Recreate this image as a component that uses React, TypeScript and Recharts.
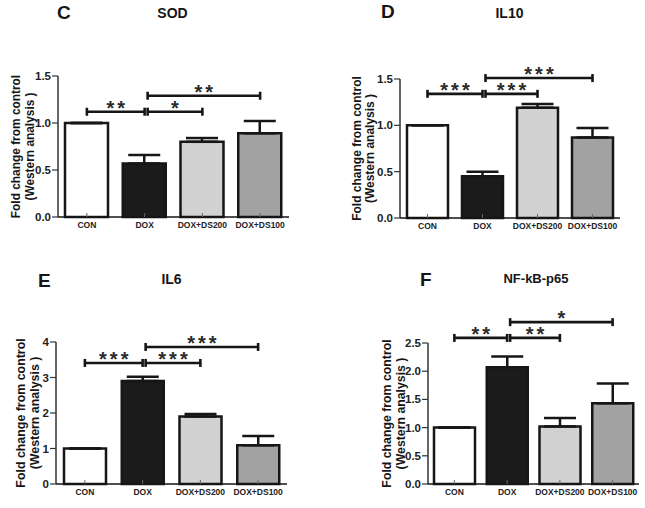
import React from 'react'
import { BarChart, Bar, XAxis, YAxis, Cell, ErrorBar, ReferenceLine } from 'recharts'

const groups = ['CON', 'DOX', 'DOX+DS200', 'DOX+DS100']
const fills = ['#ffffff', '#1b1b1b', '#d2d2d2', '#a2a2a2']

const sodMean = [1.0, 0.57, 0.8, 0.89]
const sodErr = [0, 0.09, 0.04, 0.13]
const il10Mean = [1.0, 0.45, 1.19, 0.87]
const il10Err = [0, 0.05, 0.04, 0.1]
const il6Mean = [1.0, 2.9, 1.9, 1.09]
const il6Err = [0, 0.12, 0.07, 0.26]
const nfkbMean = [1.0, 2.07, 1.02, 1.43]
const nfkbErr = [0, 0.19, 0.15, 0.35]

const sodTicks = [0, 0.5, 1, 1.5]
const il10Ticks = [0, 0.5, 1, 1.5]
const il6Ticks = [0, 1, 2, 3, 4]
const nfkbTicks = [0, 0.5, 1, 1.5, 2, 2.5]

type Sig = { from: string; to: string; y: number; stars: string }

const sodSig: Sig[] = [
  { from: 'CON', to: 'DOX', y: 1.12, stars: '**' },
  { from: 'DOX', to: 'DOX+DS200', y: 1.12, stars: '*' },
  { from: 'DOX', to: 'DOX+DS100', y: 1.29, stars: '**' },
]
const il10Sig: Sig[] = [
  { from: 'CON', to: 'DOX', y: 1.34, stars: '***' },
  { from: 'DOX', to: 'DOX+DS200', y: 1.34, stars: '***' },
  { from: 'DOX', to: 'DOX+DS100', y: 1.51, stars: '***' },
]
const il6Sig: Sig[] = [
  { from: 'CON', to: 'DOX', y: 3.41, stars: '***' },
  { from: 'DOX', to: 'DOX+DS200', y: 3.41, stars: '***' },
  { from: 'DOX', to: 'DOX+DS100', y: 3.86, stars: '***' },
]
const nfkbSig: Sig[] = [
  { from: 'CON', to: 'DOX', y: 2.59, stars: '**' },
  { from: 'DOX', to: 'DOX+DS200', y: 2.59, stars: '**' },
  { from: 'DOX', to: 'DOX+DS100', y: 2.87, stars: '*' },
]

const FONT = '"Liberation Sans", Arial, sans-serif'
const INK = '#161616'

const toRows = (mean: number[], err: number[]) =>
  groups.map((g, i) => ({ name: g, value: mean[i], err: [0, err[i]] }))

const bracketShape = (stars: string, shift: boolean) => (p: any) => {
  const x1 = p.x1 + (shift ? 3 : 0)
  const x2 = p.x2
  const y = p.y1
  return (
    <g>
      <line x1={x1} y1={y} x2={x2} y2={y} stroke={INK} strokeWidth={2.6} />
      <line x1={x1} y1={y - 4} x2={x1} y2={y + 4} stroke={INK} strokeWidth={2.6} />
      <line x1={x2} y1={y - 4} x2={x2} y2={y + 4} stroke={INK} strokeWidth={2.6} />
      <text
        x={(x1 + x2) / 2 + 1.5}
        y={y + 3}
        textAnchor="middle"
        fontFamily={FONT}
        fontWeight={700}
        fontSize={20}
        letterSpacing={3}
        fill="#2a2a2a"
      >
        {stars}
      </text>
    </g>
  )
}

const yLabel = (off1: number, off2: number, fs: number) => (p: any) => {
  const vb = p.viewBox || {}
  const ax = vb.x + vb.width
  const cy = vb.y + vb.height / 2
  const common = { textAnchor: 'middle' as const, fontFamily: FONT, fontWeight: 700, fontSize: fs, fill: INK }
  return (
    <g>
      <text transform={`translate(${ax - off1},${cy}) rotate(-90)`} {...common}>
        Fold change from control
      </text>
      <text transform={`translate(${ax - off2},${cy}) rotate(-90)`} {...common}>
        (Western analysis )
      </text>
    </g>
  )
}

type PanelProps = {
  left: number
  top: number
  width: number
  margin: { top: number; right: number; bottom: number; left: number }
  yWidth: number
  barSize: number
  mean: number[]
  err: number[]
  ticks: number[]
  sig: Sig[]
  decimals: number
  labelOff: [number, number]
  labelSize: number
}

function Panel(props: PanelProps) {
  const { left, top, width, margin, yWidth, barSize, mean, err, ticks, sig, decimals, labelOff, labelSize } = props
  const data = toRows(mean, err)
  return (
    <div style={{ position: 'absolute', left, top }}>
      <BarChart width={width} height={254} data={data} margin={margin} barSize={barSize}>
        <YAxis
          type="number"
          domain={[0, ticks[ticks.length - 1]]}
          ticks={ticks}
          width={yWidth}
          tickFormatter={(v: number) => v.toFixed(decimals)}
          tick={{ fontFamily: FONT, fontWeight: 700, fontSize: 11.5, fill: '#222' }}
          tickSize={6}
          tickMargin={1}
          tickLine={{ stroke: '#333', strokeWidth: 1.2 }}
          axisLine={{ stroke: '#333', strokeWidth: 1.5 }}
          label={yLabel(labelOff[0], labelOff[1], labelSize)}
        />
        <Bar dataKey="value" stroke={INK} strokeWidth={2.5} isAnimationActive={false}>
          {data.map((d, i) => (
            <Cell key={d.name} fill={fills[i]} />
          ))}
          <ErrorBar dataKey="err" direction="y" width={16} stroke={INK} strokeWidth={2.5} isAnimationActive={false} />
        </Bar>
        <XAxis
          dataKey="name"
          type="category"
          height={20}
          interval={0}
          tick={{ fontFamily: FONT, fontWeight: 700, fontSize: 8.5, fill: '#222' }}
          tickSize={-4}
          tickMargin={9}
          tickLine={{ stroke: '#666', strokeWidth: 1 }}
          axisLine={{ stroke: INK, strokeWidth: 1.5 }}
        />
        {sig.map((s, i) => (
          <ReferenceLine
            key={i}
            segment={[
              { x: s.from, y: s.y },
              { x: s.to, y: s.y },
            ]}
            ifOverflow="visible"
            shape={bracketShape(s.stars, s.from === 'DOX')}
          />
        ))}
      </BarChart>
    </div>
  )
}

const titles = [
  { letter: 'C', lx: 57, ly: 19, name: 'SOD', nx: 172.5, ny: 18, size: 14 },
  { letter: 'D', lx: 381, ly: 18, name: 'IL10', nx: 509.5, ny: 18, size: 14 },
  { letter: 'E', lx: 38, ly: 287, name: 'IL6', nx: 171.5, ny: 284, size: 14 },
  { letter: 'F', lx: 420, ly: 286, name: 'NF-kB-p65', nx: 536, ny: 283, size: 13 },
]

export default function App() {
  return (
    <div style={{ position: 'absolute', left: 0, top: 0, width: 645, height: 508, background: '#fff', overflow: 'hidden' }}>
      <Panel
        left={0}
        top={0}
        width={320}
        margin={{ top: 76, right: 31, bottom: 17, left: 0 }}
        yWidth={58}
        barSize={43}
        mean={sodMean}
        err={sodErr}
        ticks={sodTicks}
        sig={sodSig}
        decimals={1}
        labelOff={[38, 24]}
        labelSize={11.9}
      />
      <Panel
        left={320}
        top={0}
        width={325}
        margin={{ top: 79, right: 25, bottom: 16, left: 0 }}
        yWidth={80}
        barSize={41}
        mean={il10Mean}
        err={il10Err}
        ticks={il10Ticks}
        sig={il10Sig}
        decimals={1}
        labelOff={[39, 26]}
        labelSize={12}
      />
      <Panel
        left={0}
        top={254}
        width={320}
        margin={{ top: 88, right: 33, bottom: 4, left: 0 }}
        yWidth={56}
        barSize={42}
        mean={il6Mean}
        err={il6Err}
        ticks={il6Ticks}
        sig={il6Sig}
        decimals={0}
        labelOff={[31, 17]}
        labelSize={12.4}
      />
      <Panel
        left={320}
        top={254}
        width={325}
        margin={{ top: 89, right: 6, bottom: 4, left: 0 }}
        yWidth={108}
        barSize={41}
        mean={nfkbMean}
        err={nfkbErr}
        ticks={nfkbTicks}
        sig={nfkbSig}
        decimals={1}
        labelOff={[37, 23]}
        labelSize={12.3}
      />
      <svg width={645} height={508} style={{ position: 'absolute', left: 0, top: 0, pointerEvents: 'none' }}>
        {titles.map((t) => (
          <g key={t.letter} fontFamily={FONT} fontWeight={700} fill={INK}>
            <text x={t.lx} y={t.ly} fontSize={19}>
              {t.letter}
            </text>
            <text x={t.nx} y={t.ny} fontSize={t.size} textAnchor="middle">
              {t.name}
            </text>
          </g>
        ))}
      </svg>
    </div>
  )
}
